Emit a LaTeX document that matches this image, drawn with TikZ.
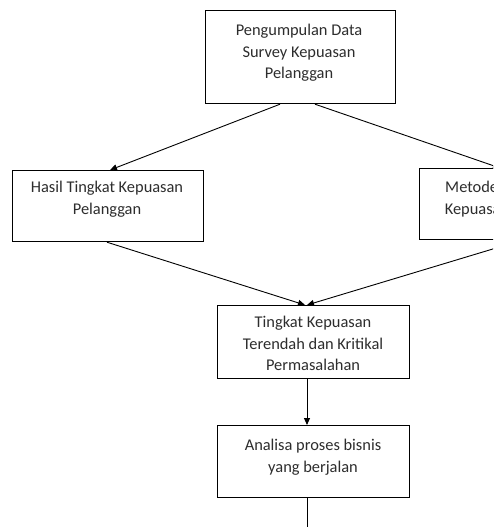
\documentclass[tikz,border=0pt]{standalone}
\usepackage{fontspec}
\setmainfont{Carlito}
\usetikzlibrary{arrows.meta}
\definecolor{txt}{RGB}{45,45,45}
\tikzset{
  box/.style={draw=black, line width=1.2pt, rectangle, anchor=north west, inner sep=0pt, fill=white},
  lbl/.style={anchor=north, inner sep=0pt, align=center, text=txt, font=\fontsize{16.4}{21.5}\selectfont},
  conn/.style={draw=black, line width=0.9pt, -{Triangle[length=7pt,width=6pt]}},
  plain/.style={draw=black, line width=0.9pt}
}
\begin{document}
\begin{tikzpicture}[x=1pt,y=-1pt]
\useasboundingbox (0,0) rectangle (493,527);
\clip (0,0) rectangle (493,527);
\fill[white] (0,0) rectangle (493,527);
% boxes
\node[box, minimum width=190, minimum height=93] (top) at (205,10) {};
\node[box, minimum width=191, minimum height=71] (left) at (12,170) {};
\node[box, minimum width=190, minimum height=71] (right) at (419,168) {};
\node[box, minimum width=192, minimum height=73] (mid) at (217,305) {};
\node[box, minimum width=192, minimum height=72] (bot) at (217,425) {};
% texts
\node[lbl] (ttop) at (299,24) {Pengumpulan Data\\Survey Kepuasan\\Pelanggan};
\node[lbl] (tleft) at (107,181) {Hasil Tingkat Kepuasan\\Pelanggan};
\node[lbl] (tright) at (513,181) {Metode Pengukuran\\Kepuasan Pelanggan};
\node[lbl] (tmid) at (313,316) {Tingkat Kepuasan\\Terendah dan Kritikal\\Permasalahan};
\node[lbl] (tbot) at (313,439) {Analisa proses bisnis\\yang berjalan};
% connectors
\coordinate (below) at (307,540);
\draw[conn] (top.south -| 280,0) -- (left.north -| 110,0);
\draw[conn] (top.south -| 315,0) -- (right.north -| 500,0);
\draw[conn] (left.south -| 107,0) -- (mid.north -| 305,0);
\draw[conn] (right.south -| 522,0) -- (mid.north -| 307,0);
\draw[conn] (mid.south -| 307,0) -- (bot.north -| 307,0);
\draw[plain] (bot.south -| 307,0) -- (below);
\end{tikzpicture}
\end{document}
